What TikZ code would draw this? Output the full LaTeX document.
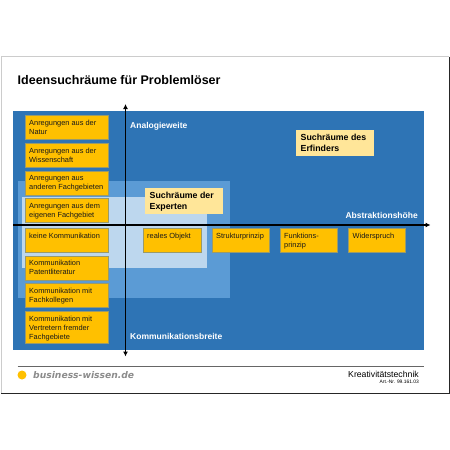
\documentclass[tikz,border=0pt]{standalone}
\usepackage{fontspec}
\setmainfont{Liberation Sans}
\newfontfamily\logofont{DejaVu Sans}
\usetikzlibrary{arrows.meta}
\definecolor{bluedark}{HTML}{2E74B5}
\definecolor{bluemid}{HTML}{5B9BD5}
\definecolor{bluelight}{HTML}{BDD7EE}
\definecolor{boxgold}{HTML}{FFC000}
\definecolor{boxedge}{HTML}{9A9A6A}
\definecolor{notecol}{HTML}{FFE699}
\tikzset{x=1pt,y=-1pt,
  itembox/.style={draw=boxedge,line width=0.6pt,fill=boxgold},
  boxtext/.style={anchor=north west,inner sep=0pt,font=\fontsize{7.4}{9.1}\selectfont,align=left,text=black!90},
  notetext/.style={anchor=north west,inner sep=0pt,font=\bfseries\fontsize{8.8}{10.6}\selectfont,align=left},
  axislabel/.style={anchor=west,inner sep=0pt,font=\bfseries\fontsize{8.5}{10}\selectfont,text=white},
  axisline/.style={line width=1.3pt,-{Latex[length=5pt,width=5pt]}}}
\newcommand{\itemb}[6]{% name x1 y1 x2 y2 text
  \node[itembox,inner sep=0pt,minimum width=#4pt-#2pt,minimum height=#5pt-#3pt,anchor=north west] (#1) at (#2,#3) {};
  \node[boxtext] (#1t) at (#2+4.5,#3+4.6) {#6};}
\begin{document}
\begin{tikzpicture}
\useasboundingbox (0,0) rectangle (450,450);
\fill[white] (0,0) rectangle (450,450);
% slide frame
\draw[black!20,line width=0.9pt] (1,393) -- (1,56.5) -- (449,56.5);
\draw[black!85,line width=0.9pt] (449,56.5) -- (449,393) -- (1,393);
\node[anchor=west,inner sep=0pt,font=\bfseries\fontsize{12.5}{15}\selectfont] (title) at (17.5,80.5) {Ideensuchräume für Problemlöser};
% regions
\fill[bluedark] (13,111) rectangle (423.5,349.5);
\fill[bluemid] (18,181) rectangle (230,298);
\fill[bluelight] (22,197) rectangle (207,268);
% axis labels
\node[axislabel] (lab1) at (130,126) {Analogieweite};
\node[axislabel] (lab2) at (130,336) {Kommunikationsbreite};
\node[axislabel,anchor=east] (lab3) at (418,215) {Abstraktionshöhe};
% notes
\fill[notecol] (145,188) rectangle (223,214);
\node[notetext] (n1) at (149.5,192) {Suchräume der\\Experten};
\fill[notecol] (296,130) rectangle (374,156);
\node[notetext] (n2) at (300.5,134) {Suchräume des\\Erfinders};
% boxes
\itemb{a}{24.5}{115}{108}{139}{Anregungen aus der\\Natur}
\itemb{b}{24.5}{143}{108}{167}{Anregungen aus der\\Wissenschaft}
\itemb{c}{24.5}{170.5}{108}{194.5}{Anregungen aus\\anderen Fachgebieten}
\itemb{d}{24.5}{198}{108}{222}{Anregungen aus dem\\eigenen Fachgebiet}
\itemb{e}{24.5}{228}{108}{252}{keine Kommunikation}
\itemb{f}{24.5}{255.5}{108}{279.5}{Kommunikation\\Patentliteratur}
\itemb{g}{24.5}{283}{108}{307}{Kommunikation mit\\Fachkollegen}
\itemb{h}{24.5}{311}{108}{342.5}{Kommunikation mit\\Vertretern fremder\\Fachgebiete}
\itemb{i}{142.5}{228}{200.5}{252}{reales Objekt}
\itemb{j}{211.5}{228}{268.5}{252}{Strukturprinzip}
\itemb{k}{279.5}{228}{336.5}{252}{Funktions-\\prinzip}
\itemb{l}{348}{228}{404.5}{252}{Widerspruch}
% axes
\coordinate (xs) at (13,225); \coordinate (xe) at (430.5,225);
\coordinate (ys) at (125.5,356.5); \coordinate (ye) at (125.5,104);
\draw[line width=1.3pt,{Latex[length=5pt,width=5pt]}-{Latex[length=5pt,width=5pt]}] (ys) -- (ye);
\draw[axisline] (xs) -- (xe);
% footer
\coordinate (fa) at (17.5,366); \coordinate (fb) at (423.5,366);
\draw[black!60,line width=0.7pt] (fa) -- (fb);
\fill[boxgold] (22,375) circle (4.5);
\node[anchor=west,inner sep=0pt,text=black!45,font=\logofont\bfseries\itshape\fontsize{9.2}{11}\selectfont] (logo) at (33,375.5) {business-wissen.de};
\node[anchor=east,inner sep=0pt,font=\fontsize{8.7}{10}\selectfont] (k) at (419,374) {Kreativitätstechnik};
\node[anchor=east,inner sep=0pt,font=\fontsize{4.9}{6}\selectfont] (art) at (419,382) {Art.-Nr. 99.161.03};
\end{tikzpicture}
\end{document}
